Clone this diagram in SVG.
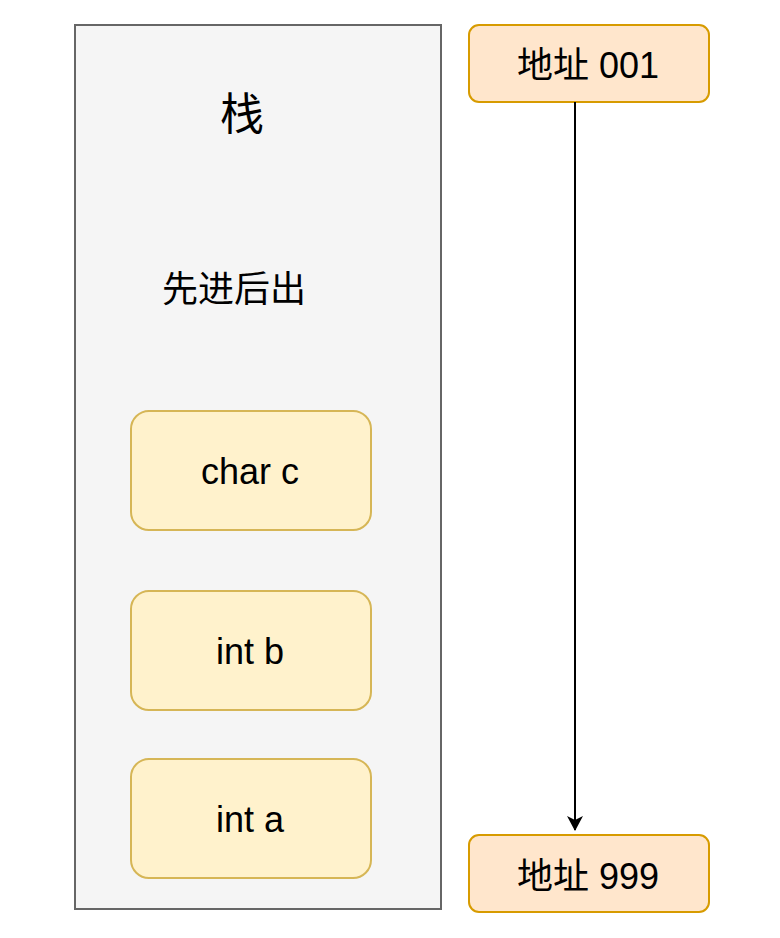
<svg xmlns="http://www.w3.org/2000/svg" width="780" height="938" viewBox="0 0 780 938">
<style>
.t{font-family:"Liberation Sans","Noto Sans CJK SC",sans-serif;fill:#000;text-anchor:middle}
.addr{fill:#ffe6cc;stroke:#d79b00;stroke-width:2}
.var{fill:#fff2cc;stroke:#d6b656;stroke-width:2}
</style>
<defs>
<marker id="arr" markerWidth="16" markerHeight="18" refX="14" refY="8" orient="auto" markerUnits="userSpaceOnUse">
<path d="M0,0 L15,8 L0,16 L4,8 Z" fill="#000"/>
</marker>
</defs>
<rect width="780" height="938" fill="#fff"/>
<g id="stack">
<rect x="75" y="25" width="366" height="884" fill="#f5f5f5" stroke="#666" stroke-width="2"/>
<text class="t" x="242" y="130" font-size="44">栈</text>
<text class="t" x="234" y="302" font-size="36">先进后出</text>
</g>
<g id="charc"><rect class="var" x="131" y="411" width="240" height="119" rx="18"/><text class="t" x="250" y="484" font-size="36">char c</text></g>
<g id="intb"><rect class="var" x="131" y="591" width="240" height="119" rx="18"/><text class="t" x="250" y="664" font-size="36">int b</text></g>
<g id="inta"><rect class="var" x="131" y="759" width="240" height="119" rx="18"/><text class="t" x="250" y="832" font-size="36">int a</text></g>
<g id="addr001"><rect class="addr" x="469" y="25" width="240" height="77" rx="10"/><text class="t" x="588" y="78" font-size="36">地址 001</text></g>
<g id="addr999"><rect class="addr" x="469" y="835" width="240" height="77" rx="10"/><text class="t" x="588" y="889" font-size="36">地址 999</text></g>
<g id="connectors">
<line x1="575" y1="102" x2="575" y2="830" stroke="#000" stroke-width="2" marker-end="url(#arr)"/>
</g>
</svg>
